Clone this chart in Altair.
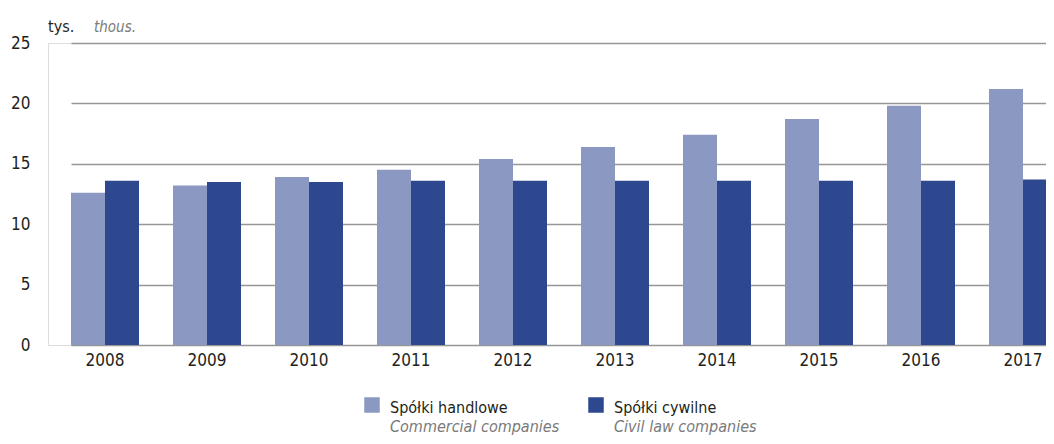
import altair as alt
import pandas as pd

years = ["2008", "2009", "2010", "2011", "2012", "2013", "2014", "2015", "2016", "2017"]
commercial = [12.6, 13.2, 13.9, 14.5, 15.4, 16.4, 17.4, 18.7, 19.8, 21.2]
civil = [13.6, 13.5, 13.5, 13.6, 13.6, 13.6, 13.6, 13.6, 13.6, 13.7]
series_pl = ["Spółki handlowe", "Spółki cywilne"]
series_en = ["Commercial companies", "Civil law companies"]
colors = ["#8b99c2", "#2e4890"]
y_ticks = [0, 5, 10, 15, 20, 25]
unit_pl = "tys."
unit_en = "thous."

FONT = "DejaVu Sans Condensed, DejaVu Sans, sans-serif"
TXT = "#231f20"
GREY = "#7a7a7a"

rows = []
for i, y in enumerate(years):
    rows.append({"year": y, "series": series_pl[0], "value": commercial[i]})
    rows.append({"year": y, "series": series_pl[1], "value": civil[i]})
df = pd.DataFrame(rows)

W, H = 998, 302

bars = alt.Chart(df).mark_bar().encode(
    x=alt.X("year:N", sort=years,
            scale=alt.Scale(range=[23, 1009], paddingInner=0.3333, paddingOuter=0),
            axis=alt.Axis(title=None, labelAngle=0, ticks=False, domain=False,
                          labelPadding=7, labelFontSize=17, labelFont=FONT,
                          labelColor=TXT)),
    xOffset=alt.XOffset("series:N", sort=series_pl,
                        scale=alt.Scale(paddingInner=0, paddingOuter=0)),
    y=alt.Y("value:Q", scale=alt.Scale(domain=[0, 25], nice=False),
            axis=alt.Axis(values=y_ticks, title=None, grid=True, domain=False,
                          ticks=False, labelPadding=18, labelFontSize=17,
                          labelFont=FONT, labelColor=TXT,
                          gridColor="#969696", gridWidth=1.7)),
    color=alt.Color("series:N", scale=alt.Scale(domain=series_pl, range=colors),
                    legend=None),
)

one = pd.DataFrame({"k": [0]})

layers = [bars]
layers.append(alt.Chart(one).mark_text(text=unit_pl, font=FONT, fontSize=16,
                                       align="left", baseline="alphabetic",
                                       color=TXT).encode(
    x=alt.value(0), y=alt.value(-11)))
layers.append(alt.Chart(one).mark_text(text=unit_en, font=FONT, fontSize=15,
                                       fontStyle="italic", align="left",
                                       baseline="alphabetic",
                                       color=GREY).encode(
    x=alt.value(46), y=alt.value(-11)))

leg_x = [324, 548]
for i in range(2):
    layers.append(alt.Chart(one).mark_square(size=240, color=colors[i], opacity=1,
                                             filled=True).encode(
        x=alt.value(leg_x[i]), y=alt.value(362)))
    layers.append(alt.Chart(one).mark_text(text=series_pl[i], font=FONT, fontSize=16,
                                           align="left", baseline="alphabetic",
                                           color=TXT).encode(
        x=alt.value(leg_x[i] + 18), y=alt.value(370)))
    layers.append(alt.Chart(one).mark_text(text=series_en[i], font=FONT, fontSize=16,
                                           fontStyle="italic", align="left",
                                           baseline="alphabetic",
                                           color=GREY).encode(
        x=alt.value(leg_x[i] + 18), y=alt.value(389)))

chart = alt.layer(*layers).properties(
    width=W, height=H,
    autosize=alt.AutoSizeParams(type="none"),
    padding={"left": 40, "top": 35, "right": 0, "bottom": 91},
).configure_view(stroke=None).configure(background="white")

chart.save("out.html", embed_options={"renderer": "svg", "actions": False})
